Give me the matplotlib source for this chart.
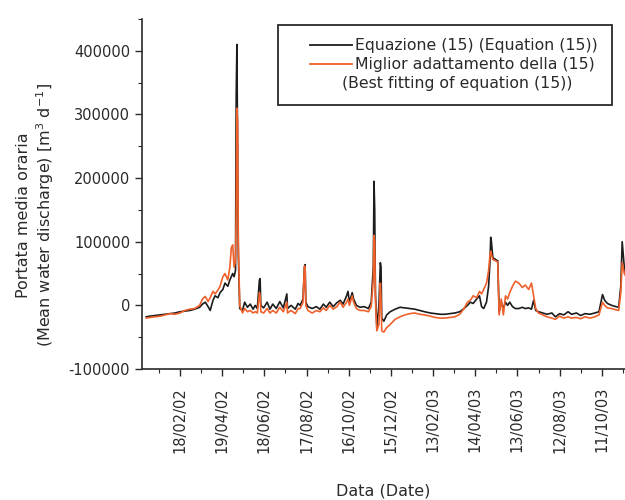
import numpy as np
import matplotlib

matplotlib.use("Agg")
import matplotlib.pyplot as plt
from matplotlib.lines import Line2D
from matplotlib.patches import Rectangle

plt.rcParams["font.family"] = ["DejaVu Sans"]

START = np.datetime64("2002-01-01")

# days since 01/01/2002
days = [0, 5, 12, 20, 27, 34, 41, 48, 55, 62, 69, 76, 80, 84, 88, 91, 95, 98, 102, 105,
        109, 112, 116, 119, 121, 123, 125, 127, 128, 129, 130, 131, 133, 137, 140, 144, 148,
        152, 155, 158, 161, 162, 163, 167, 172, 176, 180, 185, 190, 195, 200, 201, 206, 212,
        216, 219, 223, 225, 226, 227, 230, 236, 242, 247, 252, 256, 261, 266, 271, 276, 280,
        285, 287, 289, 293, 295, 299, 304, 310, 316, 320, 323, 324, 325, 326, 328, 331, 333,
        334, 335, 338, 342, 347, 354, 361, 368, 375, 382, 389, 396, 404, 411, 418, 425, 432,
        439, 446, 452, 457, 461, 465, 470, 474, 477, 480, 484, 487, 489, 490, 491, 493, 497,
        500, 502, 505, 508, 511, 514, 517, 521, 525, 530, 535, 539, 544, 548, 551, 554, 558,
        564, 570, 577, 582, 588, 594, 600, 605, 612, 618, 624, 631, 638, 644, 649, 652, 656,
        662, 668, 672, 675, 677, 680, 683]

equation_15 = [-18000, -17000, -16000, -15000, -14000, -13000, -12000, -10000, -9000, -8000,
               -6000, -3000, 2000, 5000, -2000, -8000, 8000, 15000, 12000, 20000,
               25000, 35000, 30000, 40000, 45000, 50000, 45000, 55000, 330000, 410000,
               250000, 80000, -5000, -8000, 5000, -3000, 2000, -6000, 0, -5000,
               40000, 42000, 0, -4000, 5000, -6000, 2000, -5000, 6000, -4000,
               18000, -5000, 0, -6000, 3000, 0, 10000, 60000, 64000, 5000,
               -2000, -5000, -2000, -6000, 2000, -3000, 5000, -2000, 4000, 8000,
               2000, 15000, 22000, 5000, 20000, 10000, 0, -3000, -2000, -5000,
               5000, 60000, 195000, 150000, 20000, -35000, 0, 67000, 60000, -20000,
               -25000, -15000, -10000, -6000, -3000, -4000, -5000, -6000, -8000, -10000,
               -12000, -13000, -14000, -14000, -13000, -12000, -10000, -5000, 0, 5000,
               3000, 10000, 15000, -2000, -5000, 5000, 30000, 70000, 107000, 100000,
               75000, 72000, 70000, -10000, 5000, -5000, 5000, 0, 5000, -2000,
               -5000, -5000, -3000, -5000, -4000, -6000, 8000, -8000, -10000, -12000,
               -14000, -12000, -18000, -13000, -15000, -10000, -14000, -12000, -16000, -13000,
               -14000, -12000, -10000, 17000, 8000, 3000, 0, -2000, -3000, 30000,
               100000, 60000, 40000]

best_fit = [-20000, -19000, -18000, -17000, -15000, -13000, -14000, -12000, -8000, -6000,
            -5000, 0, 10000, 14000, 6000, 12000, 22000, 18000, 24000, 30000,
            45000, 50000, 40000, 60000, 90000, 95000, 60000, 70000, 150000, 310000,
            290000, 100000, 0, -12000, -5000, -10000, -8000, -12000, -10000, -12000,
            20000, 15000, -10000, -12000, -5000, -12000, -8000, -12000, -3000, -10000,
            5000, -12000, -8000, -13000, -5000, -5000, 5000, 62000, 60000, 0,
            -8000, -12000, -8000, -10000, -4000, -8000, 0, -6000, -2000, 5000,
            -3000, 5000, 10000, 0, 15000, 5000, -5000, -8000, -8000, -10000,
            -2000, 40000, 110000, 100000, 10000, -40000, -30000, 35000, 10000, -40000,
            -42000, -35000, -30000, -22000, -18000, -15000, -13000, -12000, -14000, -15000,
            -17000, -19000, -20000, -20000, -19000, -18000, -14000, -5000, 5000, 8000,
            15000, 12000, 22000, 18000, 25000, 35000, 55000, 80000, 85000, 80000,
            72000, 70000, 68000, -15000, 10000, -15000, 15000, 10000, 20000, 30000,
            38000, 35000, 28000, 32000, 25000, 35000, 15000, -5000, -12000, -15000,
            -18000, -20000, -22000, -17000, -20000, -18000, -20000, -19000, -21000, -18000,
            -20000, -18000, -15000, 5000, 0, -4000, -5000, -7000, -8000, 20000,
            67000, 50000, 45000]

tick_dates = ["2002-02-18", "2002-04-19", "2002-06-18", "2002-08-17", "2002-10-16",
              "2002-12-15", "2003-02-13", "2003-04-14", "2003-06-13", "2003-08-12",
              "2003-10-11"]
y_ticks = [-100000, 0, 100000, 200000, 300000, 400000]

BLACK = "#1c1c1c"
ORANGE = "#f0602a"
TEXT = "#2a2a2a"


def to_dt(d):
    return np.datetime64(d, "ms").astype(object)


def main() -> int:
    t = (START + np.asarray(days).astype("timedelta64[D]")).astype("datetime64[ms]").astype(object)

    fig = plt.figure(figsize=(6.25, 5.0), dpi=100)
    ax = fig.add_axes([0.2272, 0.262, 0.7728, 0.70])

    ax.plot(t, equation_15, color=BLACK, linewidth=1.2, zorder=2)
    ax.plot(t, best_fit, color=ORANGE, linewidth=1.2, zorder=3)

    ax.set_xlim(to_dt(START - np.timedelta64(6, "D")), to_dt(START + np.timedelta64(681, "D")))
    ax.set_ylim(-100000, 450000)

    major = [to_dt(np.datetime64(d)) for d in tick_dates]
    ax.set_xticks(major)
    ax.set_xticklabels([m.strftime("%d/%m/%y") for m in major], rotation=90, fontsize=10.5,
                       color=TEXT)
    minor = [to_dt(np.datetime64(d) - np.timedelta64(30, "D")) for d in tick_dates]
    minor.append(to_dt(np.datetime64(tick_dates[-1]) + np.timedelta64(30, "D")))
    ax.set_xticks(minor, minor=True)

    ax.set_yticks(y_ticks)
    ax.set_yticklabels([str(v) for v in y_ticks], fontsize=10.5, color=TEXT)
    ax.set_yticks(np.arange(-50000, 450001, 100000), minor=True)

    ax.tick_params(which="major", direction="out", length=5, width=1.0, colors=TEXT)
    ax.tick_params(axis="x", which="major", pad=8)
    ax.tick_params(which="minor", direction="out", length=3, width=0.8, colors=TEXT)
    for side in ("top", "right"):
        ax.spines[side].set_visible(False)
    for side in ("left", "bottom"):
        ax.spines[side].set_linewidth(1.2)
        ax.spines[side].set_color(TEXT)

    ax.set_ylabel("Portata media oraria\n(Mean water discharge) [m$^3$ d$^{-1}$]",
                  fontsize=11.5, color=TEXT)
    ax.yaxis.set_label_coords(-0.178, 0.44)
    ax.set_xlabel("Data (Date)", fontsize=11.5, color=TEXT, labelpad=22)

    # legend box drawn by hand so the wrapped second label can sit as in the original
    ax.add_patch(Rectangle((0.2816, 0.7543), 0.6915, 0.2286, transform=ax.transAxes,
                           facecolor="white", edgecolor=TEXT, linewidth=1.3, zorder=5))
    ax.add_line(Line2D([0.3478, 0.4348], [0.9257, 0.9257], transform=ax.transAxes,
                       color=BLACK, linewidth=1.3, zorder=6))
    ax.add_line(Line2D([0.3478, 0.4348], [0.8714, 0.8714], transform=ax.transAxes,
                       color=ORANGE, linewidth=1.3, zorder=6))
    lkw = dict(transform=ax.transAxes, fontsize=11.3, color=TEXT, va="center", zorder=6)
    ax.text(0.441, 0.9257, "Equazione (15) (Equation (15))", **lkw)
    ax.text(0.441, 0.8714, "Miglior adattamento della (15)", **lkw)
    ax.text(0.414, 0.8143, "(Best fitting of equation (15))", **lkw)

    fig.savefig("out.png", dpi=100)
    plt.close(fig)
    return 0


if __name__ == "__main__":
    raise SystemExit(main())
